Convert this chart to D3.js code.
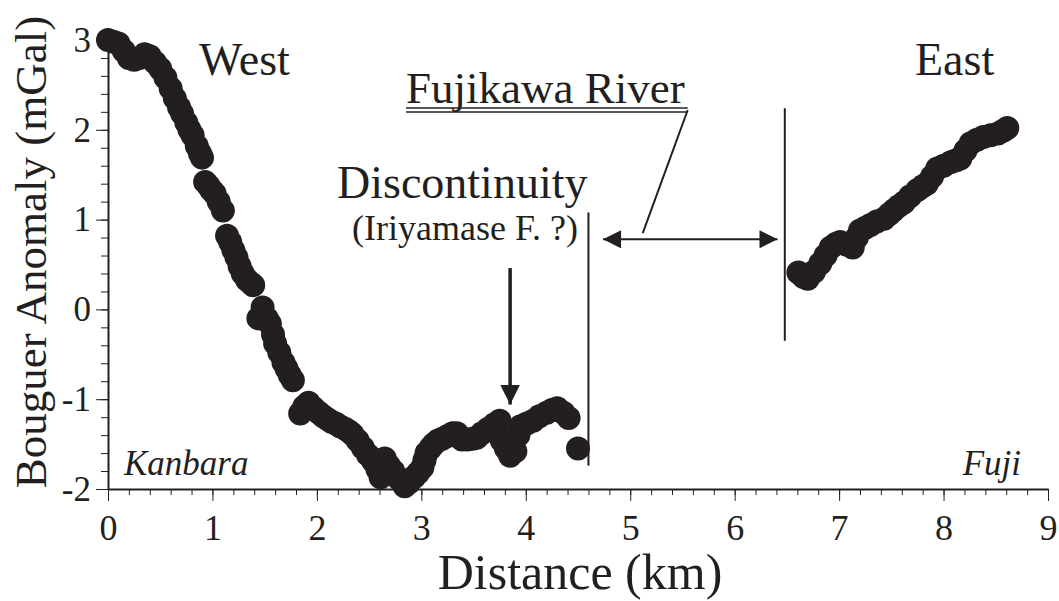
<!DOCTYPE html>
<html>
<head>
<meta charset="utf-8">
<script src="https://cdn.jsdelivr.net/npm/d3@7"></script>
<style>
  body { margin: 0; background: #fff; }
  svg { display: block; font-family: "Liberation Serif", "DejaVu Serif", serif; }
  .axis path, .axis line { stroke: #231f20; }
  .axis text { font-family: "Liberation Serif", serif; fill: #231f20; }
</style>
</head>
<body>
<svg width="1059" height="601"></svg>
<script>
// west side of the river (km, mGal)
const westDist = [0.00, 0.05, 0.10, 0.15, 0.20, 0.25, 0.30, 0.35, 0.40, 0.45, 0.50,
  0.55, 0.60, 0.64, 0.68, 0.71, 0.75, 0.78, 0.81, 0.85, 0.88, 0.90,
  0.93, 0.96, 0.99, 1.02, 1.06, 1.10,
  1.14, 1.17, 1.20, 1.23, 1.26, 1.29, 1.33, 1.37, 1.39,
  1.48, 1.44, 1.52, 1.55, 1.58, 1.60, 1.64, 1.68, 1.71, 1.74, 1.77,
  1.84, 1.88, 1.92, 1.97, 2.02, 2.06, 2.10, 2.14, 2.18, 2.22, 2.27, 2.31, 2.34,
  2.39, 2.44, 2.49, 2.54, 2.58, 2.61, 2.65, 2.69, 2.73, 2.78, 2.84, 2.88, 2.93,
  2.97, 3.01, 3.03, 3.05, 3.09, 3.12, 3.16, 3.20, 3.25, 3.30, 3.34, 3.39, 3.44,
  3.49, 3.53, 3.58, 3.64, 3.70, 3.75, 3.77, 3.81, 3.85, 3.90, 3.93, 3.95, 4.01,
  4.07, 4.13, 4.20, 4.25, 4.30, 4.36, 4.41, 4.50];
const westVal = [3.00, 2.98, 2.96, 2.88, 2.80, 2.78, 2.80, 2.84, 2.82, 2.75, 2.68,
  2.58, 2.46, 2.35, 2.25, 2.18, 2.08, 2.00, 1.94, 1.82, 1.74, 1.69,
  1.42, 1.38, 1.33, 1.29, 1.20, 1.10,
  0.82, 0.75, 0.66, 0.58, 0.48, 0.40, 0.33, 0.29, 0.27,
  0.02, -0.10, -0.10, -0.16, -0.28, -0.38, -0.48, -0.59, -0.66, -0.73, -0.79,
  -1.16, -1.08, -1.04, -1.10, -1.15, -1.19, -1.22, -1.25, -1.27, -1.30, -1.33, -1.36, -1.39,
  -1.46, -1.54, -1.62, -1.69, -1.78, -1.87, -1.66, -1.74, -1.80, -1.88, -1.97, -1.93, -1.87,
  -1.82, -1.76, -1.68, -1.60, -1.54, -1.50, -1.46, -1.44, -1.41, -1.38, -1.38, -1.45, -1.45,
  -1.44, -1.43, -1.38, -1.33, -1.28, -1.24, -1.46, -1.55, -1.63, -1.58, -1.40, -1.30, -1.27,
  -1.24, -1.19, -1.15, -1.12, -1.10, -1.15, -1.21, -1.55];

// east side of the river
const eastDist = [6.61, 6.66, 6.70, 6.76, 6.82, 6.87, 6.92, 6.97, 7.01, 7.07, 7.13,
  7.17, 7.20, 7.25, 7.30, 7.36, 7.43, 7.48, 7.52, 7.57, 7.62, 7.68, 7.75, 7.80,
  7.84, 7.89, 7.94, 8.00, 8.07, 8.12, 8.16, 8.21, 8.26, 8.32, 8.38, 8.45, 8.52,
  8.57, 8.61];
const eastVal = [0.41, 0.36, 0.34, 0.42, 0.51, 0.60, 0.69, 0.73, 0.75, 0.72, 0.69,
  0.80, 0.88, 0.91, 0.94, 0.98, 1.01, 1.06, 1.10, 1.15, 1.19, 1.26, 1.33, 1.37,
  1.40, 1.48, 1.57, 1.60, 1.64, 1.66, 1.68, 1.77, 1.85, 1.89, 1.92, 1.94, 1.96,
  1.99, 2.02];

const xTicks = [0, 1, 2, 3, 4, 5, 6, 7, 8, 9];
const yTicks = [-2, -1, 0, 1, 2, 3];

// river banks (km) and the extent of each marker line (mGal)
const bankWest = { x: 4.60, y0: -1.74, y1: 1.08 };
const bankEast = { x: 6.48, y0: -0.35, y1: 2.24 };
const riverArrow = { x0: 4.74, x1: 6.41, y: 0.78 };
const faultArrow = { x: 3.85, y0: 0.46, y1: -1.06 };

const ink = '#231f20';
const svg = d3.select('svg');

const x = d3.scaleLinear().domain([0, 9]).range([108, 1048]);
const y = d3.scaleLinear().domain([-2, 3]).range([489, 40]);

// minor ticks
svg.append('g')
  .attr('class', 'axis')
  .attr('transform', `translate(0,${y(-2)})`)
  .call(d3.axisBottom(x).tickValues(d3.range(0, 9.01, 0.2)).tickSize(6).tickFormat(''))
  .call(g => g.select('.domain').remove());
svg.append('g')
  .attr('class', 'axis')
  .attr('transform', `translate(${x(0)},0)`)
  .call(d3.axisLeft(y).tickValues(d3.range(-2, 3.01, 0.2)).tickSize(7).tickFormat(''))
  .call(g => g.select('.domain').remove());

// major ticks + labels
const xAxis = svg.append('g')
  .attr('class', 'axis')
  .attr('transform', `translate(0,${y(-2)})`)
  .call(d3.axisBottom(x).tickValues(xTicks).tickFormat(d => String(d))
    .tickSize(12).tickSizeOuter(0).tickPadding(13));
xAxis.selectAll('text').attr('font-size', 36);
xAxis.select('.domain').attr('stroke-width', 2);

const yAxis = svg.append('g')
  .attr('class', 'axis')
  .attr('transform', `translate(${x(0)},0)`)
  .call(d3.axisLeft(y).tickValues(yTicks).tickFormat(d => String(d))
    .tickSize(12).tickSizeOuter(0).tickPadding(5));
yAxis.selectAll('text').attr('font-size', 35);
yAxis.select('.domain').attr('stroke-width', 2);

// data points
const west = westDist.map((d, i) => ({ d, v: westVal[i] }));
const east = eastDist.map((d, i) => ({ d, v: eastVal[i] }));

svg.append('g')
  .selectAll('circle')
  .data(west.concat(east))
  .enter()
  .append('circle')
  .attr('cx', p => x(p.d))
  .attr('cy', p => y(p.v))
  .attr('r', 12)
  .attr('fill', ink);

// arrow heads
const defs = svg.append('defs');
defs.append('marker')
  .attr('id', 'head')
  .attr('viewBox', '0 0 10 10')
  .attr('refX', 10).attr('refY', 5)
  .attr('markerWidth', 19).attr('markerHeight', 18)
  .attr('markerUnits', 'userSpaceOnUse')
  .attr('orient', 'auto-start-reverse')
  .append('path')
  .attr('d', 'M0,0L10,5L0,10Z')
  .attr('fill', ink);
defs.append('marker')
  .attr('id', 'headDown')
  .attr('viewBox', '0 0 10 10')
  .attr('refX', 10).attr('refY', 5)
  .attr('markerWidth', 20).attr('markerHeight', 22)
  .attr('markerUnits', 'userSpaceOnUse')
  .attr('orient', 'auto')
  .append('path')
  .attr('d', 'M0,0L10,5L0,10Z')
  .attr('fill', ink);

const ann = svg.append('g').attr('stroke', ink).attr('fill', 'none');

// river bank lines
[bankWest, bankEast].forEach(b => {
  ann.append('line')
    .attr('x1', x(b.x)).attr('x2', x(b.x))
    .attr('y1', y(b.y0)).attr('y2', y(b.y1))
    .attr('stroke-width', 2);
});

// double arrow across the river
ann.append('line')
  .attr('x1', x(riverArrow.x0)).attr('x2', x(riverArrow.x1))
  .attr('y1', y(riverArrow.y)).attr('y2', y(riverArrow.y))
  .attr('stroke-width', 2)
  .attr('marker-start', 'url(#head)')
  .attr('marker-end', 'url(#head)');

// discontinuity arrow
ann.append('line')
  .attr('x1', x(faultArrow.x)).attr('x2', x(faultArrow.x))
  .attr('y1', y(faultArrow.y0)).attr('y2', y(faultArrow.y1))
  .attr('stroke-width', 3.5)
  .attr('marker-end', 'url(#headDown)');

// labels
const txt = (s, px, py, size, anchor, style) => svg.append('text')
  .attr('x', px).attr('y', py)
  .attr('font-size', size)
  .attr('text-anchor', anchor || 'start')
  .attr('font-style', style || 'normal')
  .attr('fill', ink)
  .text(s);

txt('West', 199, 75, 46);
txt('East', 915, 75, 46);
const river = txt('Fujikawa River', 406, 103, 45);
txt('Discontinuity', 337, 198, 46);
txt('(Iriyamase F. ?)', 352, 240, 36);
txt('Kanbara', 124, 475, 35, 'start', 'italic');
txt('Fuji', 1021, 475, 35, 'end', 'italic');
txt('Distance (km)', 580, 589, 50, 'middle');
svg.append('text')
  .attr('transform', 'translate(46,252) rotate(-90)')
  .attr('font-size', 45)
  .attr('text-anchor', 'middle')
  .attr('fill', ink)
  .text('Bouguer Anomaly (mGal)');

// double underline and leader to the double arrow
const rb = river.node().getBBox();
[108, 112].forEach(uy => {
  ann.append('line')
    .attr('x1', rb.x).attr('x2', rb.x + rb.width + 3)
    .attr('y1', uy).attr('y2', uy)
    .attr('stroke-width', 1.6);
});
ann.append('line')
  .attr('x1', rb.x + rb.width + 3).attr('y1', 110)
  .attr('x2', x(5.12)).attr('y2', y(0.85))
  .attr('stroke-width', 2);
</script>
</body>
</html>
